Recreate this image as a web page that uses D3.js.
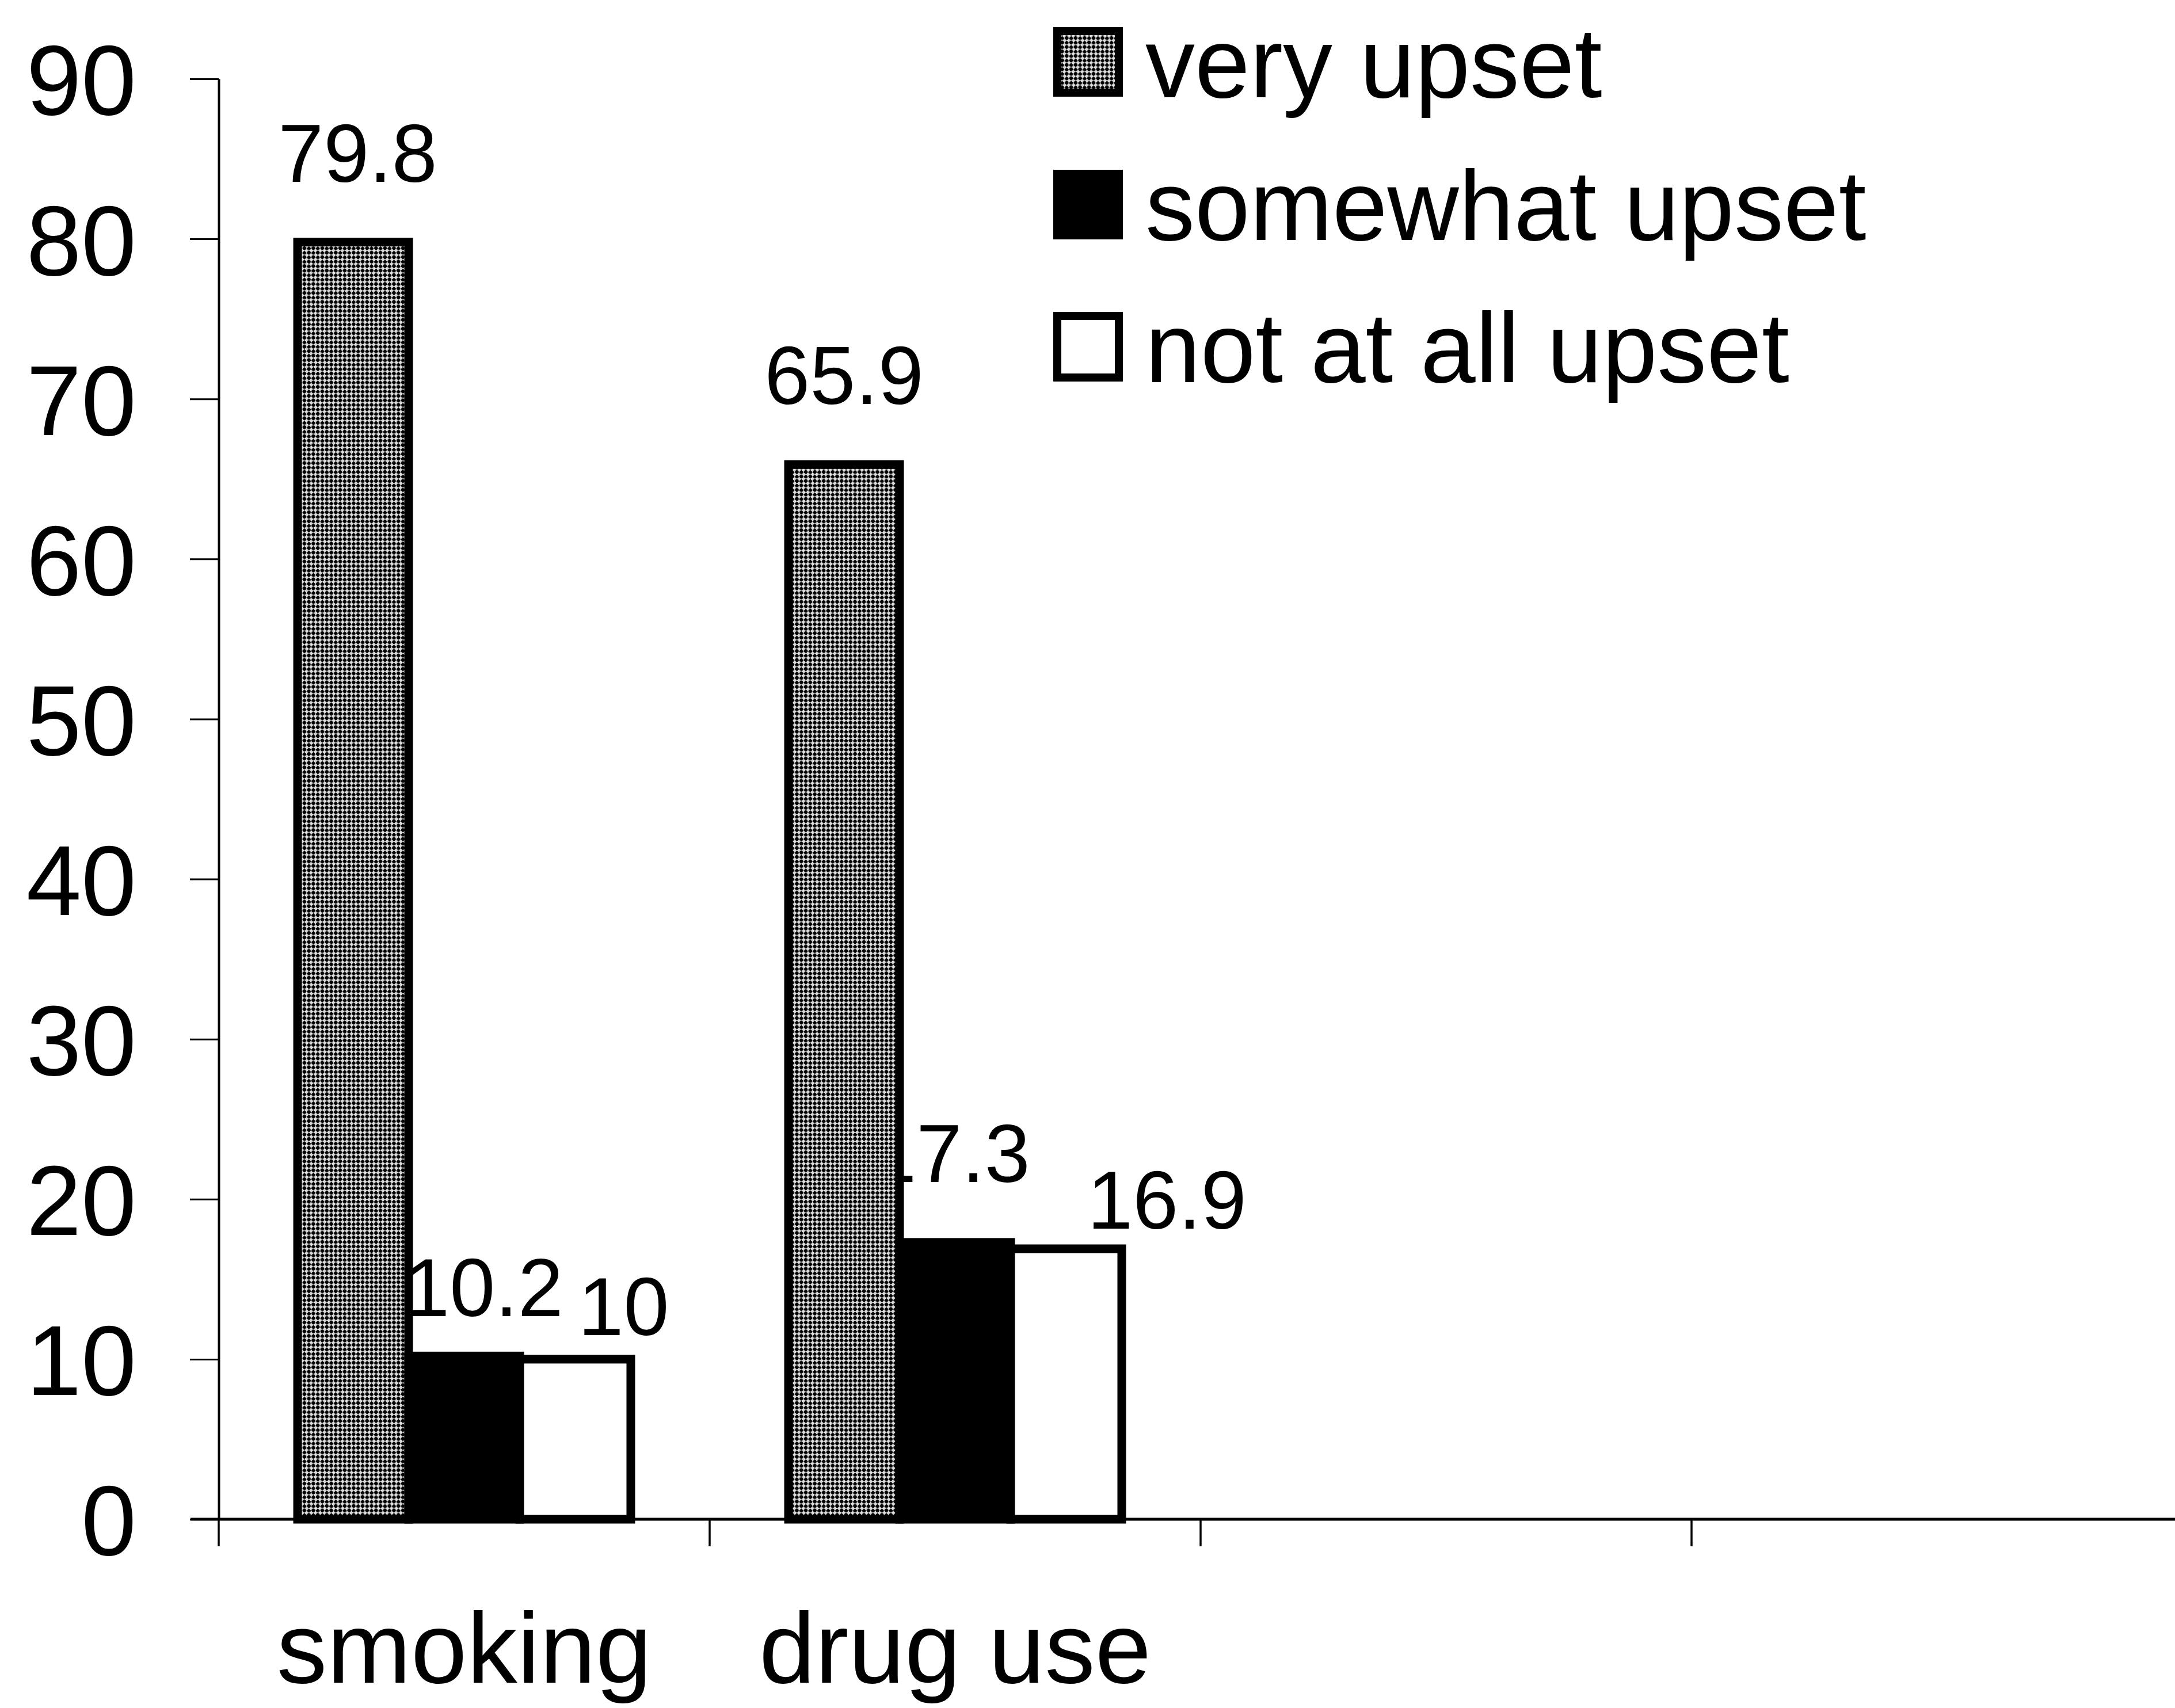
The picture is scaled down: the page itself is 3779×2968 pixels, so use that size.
<!DOCTYPE html>
<html><head><meta charset="utf-8">
<script src="https://cdn.jsdelivr.net/npm/d3@7"></script>
<style>html,body{margin:0;padding:0;background:#fff;} svg{display:block;}</style>
</head><body>
<svg id="chart" width="3779" height="2968"></svg>
<script>
// ---- data ----
const categories = ["smoking", "drug use", "", ""];
const seriesNames = ["very upset", "somewhat upset", "not at all upset"];
const veryUpset = [79.8, 65.9];
const somewhatUpset = [10.2, 17.3];
const notAtAllUpset = [10, 16.9];
const yTickValues = [0, 10, 20, 30, 40, 50, 60, 70, 80, 90];

// ---- layout (not data) ----
const W = 3779, H = 2968;
const plot = {left: 380, right: 3792, top: 137, bottom: 2640};
const FONT = "'Liberation Sans', Arial, sans-serif";
// manual nudges of value labels (dx, dy), by category then series
const labelNudge = [[[8, 0], [34, 36], [84, 63]], [[0, 0], [-8, 0], [175, 70]]];

const seriesValues = [veryUpset, somewhatUpset, notAtAllUpset];
const rows = [];
categories.forEach((c, ci) => {
  seriesNames.forEach((s, si) => {
    const v = seriesValues[si][ci];
    if (v !== undefined) rows.push({ci, si, v});
  });
});

const svg = d3.select("#chart");
svg.append("rect").attr("width", W).attr("height", H).attr("fill", "#fff");

const defs = svg.append("defs");
const pat = defs.append("pattern").attr("id", "stipple")
  .attr("patternUnits", "userSpaceOnUse").attr("width", 11).attr("height", 11)
  .attr("patternTransform", "rotate(45)");
pat.append("rect").attr("width", 11).attr("height", 11).attr("fill", "#ddd");
pat.append("circle").attr("cx", 2.5).attr("cy", 2.5).attr("r", 3.3).attr("fill", "#000");
pat.append("circle").attr("cx", 8).attr("cy", 8).attr("r", 3.3).attr("fill", "#000");

const fills = ["url(#stipple)", "#000", "#fff"];

const x0 = d3.scaleBand().domain(d3.range(categories.length))
  .range([plot.left, plot.right]).paddingInner(0).paddingOuter(0);
const x1 = d3.scaleBand().domain(d3.range(seriesNames.length))
  .range([0, x0.bandwidth()]).paddingInner(0).paddingOuter(0.71);
const y = d3.scaleLinear().domain([0, 90]).range([plot.bottom, plot.top]);

// Y axis
const yAxis = d3.axisLeft(y).tickValues(yTickValues).tickSize(50).tickSizeOuter(0).tickPadding(93);
const gy = svg.append("g").attr("transform", `translate(${plot.left},0)`).call(yAxis);
gy.select(".domain").attr("stroke", "#000").attr("stroke-width", 4);
gy.selectAll(".tick line").attr("stroke", "#000").attr("stroke-width", 3);
gy.selectAll(".tick text").attr("font-family", FONT).attr("font-size", 172)
  .attr("fill", "#000").attr("dy", "0.36em");

// X axis line
svg.append("line").attr("x1", plot.left - 49).attr("x2", W)
  .attr("y1", y(0)).attr("y2", y(0)).attr("stroke", "#000").attr("stroke-width", 5);
// category boundary ticks
svg.append("g").selectAll("line").data(d3.range(categories.length)).join("line")
  .attr("x1", i => x0(i)).attr("x2", i => x0(i))
  .attr("y1", y(0)).attr("y2", y(0) + 47)
  .attr("stroke", "#000").attr("stroke-width", 3.5);
// category labels
svg.append("g").selectAll("text").data(d3.range(categories.length)).join("text")
  .attr("x", i => x0(i) + x0.bandwidth() / 2).attr("y", 2924)
  .attr("text-anchor", "middle").attr("font-family", FONT).attr("font-size", 175)
  .attr("fill", "#000").text(i => categories[i]);

// value labels (drawn under the bars)
svg.append("g").selectAll("text").data(rows).join("text")
  .attr("x", d => x0(d.ci) + x1(d.si) + x1.bandwidth() / 2 + labelNudge[d.ci][d.si][0])
  .attr("y", d => y(d.v) - 105 + labelNudge[d.ci][d.si][1])
  .attr("text-anchor", "middle").attr("font-family", FONT).attr("font-size", 142)
  .attr("fill", "#000").text(d => d.v);

// bars
svg.append("g").selectAll("rect").data(rows).join("rect")
  .attr("x", d => x0(d.ci) + x1(d.si))
  .attr("y", d => y(d.v))
  .attr("width", x1.bandwidth())
  .attr("height", d => y(0) - y(d.v))
  .attr("fill", d => fills[d.si])
  .attr("stroke", "#000").attr("stroke-width", 15);

// legend
const legend = svg.append("g").attr("transform", "translate(1830,0)");
const legendTop = [47, 295, 542];
const lg = legend.selectAll("g").data(seriesNames).join("g")
  .attr("transform", (d, i) => `translate(0,${legendTop[i]})`);
lg.append("rect").attr("x", 7).attr("y", 7).attr("width", 107).attr("height", 107)
  .attr("fill", (d, i) => fills[i]).attr("stroke", "#000").attr("stroke-width", 14);
lg.append("text").attr("x", 160).attr("y", 122)
  .attr("font-family", FONT).attr("font-size", 172).attr("fill", "#000").text(d => d);
</script>
</body></html>
